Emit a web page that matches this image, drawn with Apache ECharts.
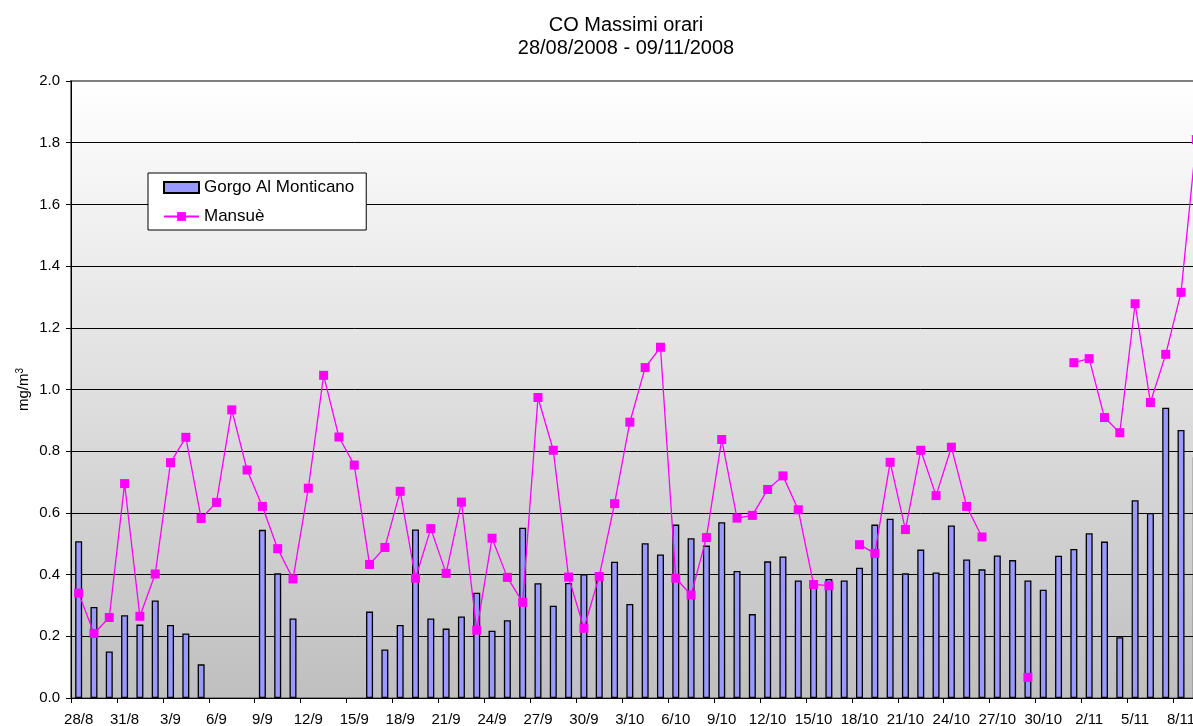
<!DOCTYPE html>
<html>
<head>
<meta charset="utf-8">
<script src="https://cdn.jsdelivr.net/npm/echarts@6/dist/echarts.min.js"></script>
<style>
html,body{margin:0;padding:0;background:#fff;overflow:hidden;width:1193px;height:726px;}
#chart{width:1230px;height:726px;}
</style>
</head>
<body>
<div id="chart"></div>
<script>
var categories = [
  '28/8','29/8','30/8','31/8',
  '1/9','2/9','3/9','4/9','5/9','6/9','7/9','8/9','9/9','10/9','11/9','12/9','13/9','14/9','15/9','16/9','17/9','18/9','19/9','20/9','21/9','22/9','23/9','24/9','25/9','26/9','27/9','28/9','29/9','30/9',
  '1/10','2/10','3/10','4/10','5/10','6/10','7/10','8/10','9/10','10/10','11/10','12/10','13/10','14/10','15/10','16/10','17/10','18/10','19/10','20/10','21/10','22/10','23/10','24/10','25/10','26/10','27/10','28/10','29/10','30/10','31/10',
  '1/11','2/11','3/11','4/11','5/11','6/11','7/11','8/11','9/11'
];
var gorgoValues = [
  0.508,0.295,0.151,0.268,0.238,0.316,0.237,0.209,0.109,null,
  null,null,0.545,0.404,0.258,null,null,null,null,0.280,
  0.157,0.237,0.546,0.258,0.225,0.264,0.341,0.218,0.252,0.552,
  0.372,0.299,0.373,0.401,0.400,0.442,0.305,0.502,0.465,0.562,
  0.518,0.494,0.570,0.412,0.272,0.443,0.459,0.381,0.380,0.386,
  0.381,0.422,0.562,0.581,0.404,0.481,0.407,0.559,0.449,0.417,
  0.462,0.447,0.381,0.351,0.461,0.483,0.534,0.507,0.197,0.641,
  0.600,0.941,0.869,0.780
];
var mansueValues = [
  0.340,0.209,0.261,0.695,0.265,0.402,0.763,0.845,0.582,0.634,
  0.934,0.739,0.621,0.484,0.386,0.680,1.046,0.846,0.755,0.433,
  0.488,0.670,0.388,0.549,0.404,0.635,0.220,0.518,0.391,0.310,
  0.974,0.803,0.392,0.226,0.394,0.630,0.894,1.071,1.137,0.388,
  0.334,0.520,0.838,0.583,0.592,0.676,0.720,0.610,0.368,0.364,
  null,0.497,0.469,0.764,0.546,0.803,0.656,0.813,0.621,0.522,
  null,null,0.067,null,null,1.087,1.100,0.909,0.860,1.278,
  0.958,1.114,1.315,1.810
];
var seriesNames = ['Gorgo Al Monticano', 'Mansuè'];
var titleLines = ['CO Massimi orari', '28/08/2008 - 09/11/2008'];

var FONT = 'Liberation Sans, Arial, sans-serif';
var chart = echarts.init(document.getElementById('chart'), null, {renderer: 'canvas'});
chart.setOption({
  animation: false,
  backgroundColor: '#ffffff',
  textStyle: {fontFamily: FONT, color: '#000'},
  title: {
    text: titleLines.join('\n'),
    left: 621,
    top: 9,
    textAlign: 'center',
    textStyle: {fontFamily: FONT, fontSize: 20, fontWeight: 'normal', color: '#000', lineHeight: 23}
  },
  legend: {
    left: 148,
    top: 173,
    orient: 'vertical',
    backgroundColor: '#ffffff',
    borderColor: '#000000',
    borderWidth: 1,
    padding: [6, 12, 5, 15],
    itemGap: 12,
    itemWidth: 35,
    itemHeight: 11,
    textStyle: {fontFamily: FONT, fontSize: 17, color: '#000'},
    data: [{name: seriesNames[0], icon: 'rect'}, {name: seriesNames[1]}]
  },
  grid: {
    left: 71,
    top: 81,
    width: 1133,
    bottom: 28,
    outerBoundsMode: 'none',
    containLabel: false,
    show: true,
    borderColor: '#808080',
    borderWidth: 2,
    backgroundColor: new echarts.graphic.LinearGradient(0, 0, 0, 1, [
      {offset: 0, color: '#ffffff'},
      {offset: 1, color: '#bfbfbf'}
    ])
  },
  xAxis: {
    type: 'category',
    data: categories,
    boundaryGap: true,
    axisLine: {show: true, lineStyle: {color: '#000', width: 1}},
    axisTick: {show: true, interval: 2, length: 5, inside: false, alignWithLabel: false, lineStyle: {color: '#000'}},
    axisLabel: {interval: 2, fontSize: 15, color: '#000', fontFamily: FONT, margin: 14},
    splitLine: {show: false}
  },
  yAxis: {
    type: 'value',
    min: 0,
    max: 2,
    interval: 0.2,
    name: '{a|mg/m}{b|3}',
    nameLocation: 'middle',
    nameGap: 38,
    nameMoveOverlap: false,
    nameRotate: 90,
    nameTextStyle: {
      fontFamily: FONT,
      color: '#000',
      rich: {
        a: {fontSize: 15, fontFamily: FONT, color: '#000', lineHeight: 18},
        b: {fontSize: 10, fontFamily: FONT, color: '#000', lineHeight: 18, verticalAlign: 'top', padding: [0, 0, 6, 0]}
      }
    },
    axisLine: {show: true, lineStyle: {color: '#000', width: 1}},
    axisTick: {show: true, length: 5, inside: false, lineStyle: {color: '#000'}},
    axisLabel: {
      fontSize: 15, color: '#000', fontFamily: FONT, margin: 11,
      formatter: function (v) { return v.toFixed(1); }
    },
    splitLine: {show: true, showMinLine: false, showMaxLine: false, lineStyle: {color: '#000', width: 1}}
  },
  series: [
    {
      name: seriesNames[0],
      type: 'bar',
      data: gorgoValues,
      barWidth: 7,
      itemStyle: {color: '#9999ff', borderColor: '#000', borderWidth: 1.3},
      z: 2
    },
    {
      name: seriesNames[1],
      type: 'line',
      data: mansueValues,
      symbol: 'rect',
      symbolSize: 9,
      connectNulls: false,
      lineStyle: {color: '#ff00ff', width: 1.3},
      itemStyle: {color: '#ff00ff'},
      z: 3
    }
  ]
});
</script>
</body>
</html>
